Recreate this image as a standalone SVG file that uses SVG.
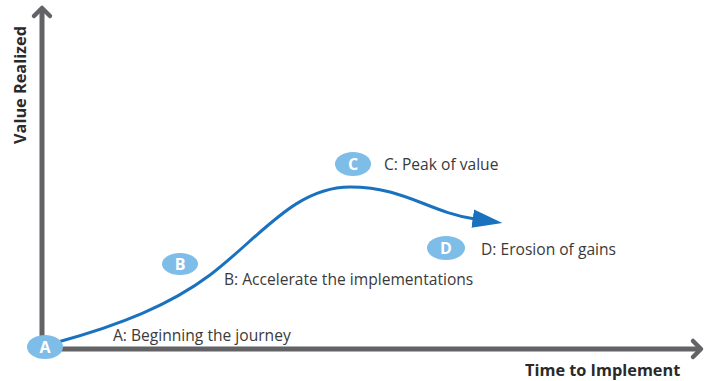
<svg xmlns="http://www.w3.org/2000/svg" width="710" height="381" viewBox="0 0 710 381">
<defs>
<style>
.axis{stroke:#636366;stroke-width:5;fill:none;stroke-linecap:butt}
.head{stroke:#636366;stroke-width:4.5;fill:none;stroke-linecap:round;stroke-linejoin:round}
.badge{fill:#7dbde8}
.letter{font-family:"Open Sans","Liberation Sans",sans-serif;font-weight:bold;font-size:16px;fill:#ffffff;text-anchor:middle}
.label{font-family:"Open Sans","Liberation Sans",sans-serif;font-size:15.6px;fill:#3a3a3a}
.title{font-family:"Open Sans","Liberation Sans",sans-serif;font-weight:bold;font-size:16.3px;fill:#2a2a2a}
.curve{stroke:#1a72bf;stroke-width:3;fill:none}
</style>
<marker id="arr" markerUnits="userSpaceOnUse" markerWidth="30" markerHeight="20" refX="2" refY="8" orient="auto" viewBox="0 0 26 16">
<path d="M0,0 L26,8 L0,16 Z" fill="#1a72bf"/>
</marker>
</defs>
<g id="axes">
<line class="axis" x1="42" y1="9" x2="42" y2="349"/>
<line class="axis" x1="40" y1="349" x2="699" y2="349"/>
<polyline class="head" points="34,16 42,8 50,16"/>
<polyline class="head" points="693,341 701,349 693,357"/>
<text class="title" transform="translate(26,85) rotate(-90)" text-anchor="middle">Value Realized</text>
<text class="title" x="525" y="376">Time to Implement</text>
</g>
<g id="connectors">
<path class="curve" marker-end="url(#arr)" d="M58,342 C120,325 170,305 210,275 C260,237 295,187 350,187 C405,187 428,212 475,219"/>
</g>
<g id="node-a">
<ellipse class="badge" cx="45" cy="347" rx="18" ry="12"/>
<text class="letter" x="45" y="352.5">A</text>
<text class="label" x="113" y="341">A: Beginning the journey</text>
</g>
<g id="node-b">
<ellipse class="badge" cx="180" cy="264" rx="18" ry="11"/>
<text class="letter" x="180" y="269.5">B</text>
<text class="label" x="224" y="285">B: Accelerate the implementations</text>
</g>
<g id="node-c">
<ellipse class="badge" cx="353" cy="164" rx="18" ry="12"/>
<text class="letter" x="353" y="169.5">C</text>
<text class="label" x="384" y="170">C: Peak of value</text>
</g>
<g id="node-d">
<ellipse class="badge" cx="446" cy="248" rx="19" ry="12"/>
<text class="letter" x="446" y="253.5">D</text>
<text class="label" x="481" y="255">D: Erosion of gains</text>
</g>
</svg>
